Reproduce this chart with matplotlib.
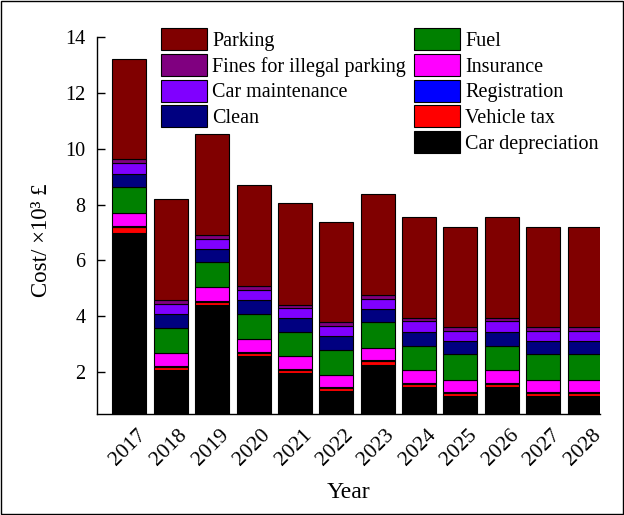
import matplotlib
matplotlib.use("Agg")
import matplotlib.pyplot as plt
from matplotlib.patches import Rectangle
from matplotlib.transforms import ScaledTranslation
import numpy as np

years = ["2017", "2018", "2019", "2020", "2021", "2022", "2023", "2024", "2025", "2026", "2027", "2028"]
car_depreciation = [7.00, 2.08, 4.42, 2.60, 1.98, 1.34, 2.28, 1.47, 1.14, 1.47, 1.14, 1.14]
vehicle_tax = [0.20, 0.12, 0.10, 0.09, 0.10, 0.09, 0.11, 0.11, 0.12, 0.11, 0.12, 0.12]
registration = [0.05, 0.04, 0.04, 0.04, 0.04, 0.04, 0.04, 0.04, 0.04, 0.04, 0.04, 0.04]
insurance = [0.46, 0.45, 0.48, 0.47, 0.45, 0.44, 0.45, 0.45, 0.44, 0.45, 0.44, 0.44]
fuel = [0.90, 0.90, 0.89, 0.90, 0.89, 0.90, 0.91, 0.89, 0.91, 0.89, 0.91, 0.91]
clean = [0.49, 0.51, 0.49, 0.50, 0.48, 0.49, 0.47, 0.50, 0.48, 0.50, 0.48, 0.48]
car_maintenance = [0.38, 0.34, 0.34, 0.35, 0.36, 0.34, 0.36, 0.36, 0.36, 0.36, 0.36, 0.36]
fines = [0.14, 0.13, 0.16, 0.12, 0.12, 0.15, 0.13, 0.14, 0.13, 0.14, 0.13, 0.13]
parking = [3.57, 3.62, 3.59, 3.63, 3.63, 3.60, 3.63, 3.60, 3.59, 3.60, 3.59, 3.59]

series = [
    ("Car depreciation", car_depreciation, "#000000"),
    ("Vehicle tax", vehicle_tax, "#FF0000"),
    ("Registration", registration, "#0000FF"),
    ("Insurance", insurance, "#FF00FF"),
    ("Fuel", fuel, "#008000"),
    ("Clean", clean, "#000080"),
    ("Car maintenance", car_maintenance, "#8000FF"),
    ("Fines for illegal parking", fines, "#800080"),
    ("Parking", parking, "#800000"),
]

plt.rcParams["font.family"] = ["Liberation Serif", "DejaVu Serif"]
fig = plt.figure(figsize=(6.24, 5.15), dpi=100)
ax = fig.add_axes([0.155, 0.1955, 0.962 - 0.155, 0.9287 - 0.1955])

x = np.arange(len(years))
bottom = np.zeros(len(years))
handles = {}
for name, vals, col in series:
    v = np.array(vals)
    b = ax.bar(x, v, width=0.82, bottom=bottom, color=col, edgecolor="black",
               linewidth=0.8, label=name)
    handles[name] = b
    bottom += v

ax.set_ylim(0.5, 14)
ax.set_xlim(-0.79, 11.38)
ax.set_yticks([2, 4, 6, 8, 10, 12, 14])
ax.set_xticks(x)
ax.set_xticklabels(years, rotation=45, ha="right", va="center", rotation_mode="anchor")
ax.tick_params(axis="x", length=0, pad=13, labelsize=15.5)
ax.tick_params(axis="y", direction="in", length=6, width=1, labelsize=14.5, pad=8)
shift = ScaledTranslation(14 / 100, 0, fig.dpi_scale_trans)
for lab in ax.get_xticklabels():
    lab.set_transform(lab.get_transform() + shift)
for s in ["top", "right"]:
    ax.spines[s].set_visible(False)
for s in ["left", "bottom"]:
    ax.spines[s].set_linewidth(1.0)

ax.set_xlabel("Year", fontsize=17, labelpad=9)
ax.set_ylabel("Cost/ ×10³ £", fontsize=16.5)
ax.yaxis.set_label_coords(-0.089, 0.46)

blank = Rectangle((0, 0), 0, 0, fill=False, edgecolor="none", visible=False)
order = ["Parking", "Fines for illegal parking", "Car maintenance", "Clean", None,
         "Fuel", "Insurance", "Registration", "Vehicle tax", "Car depreciation"]
hl = [handles[n] if n else blank for n in order]
ll = [n if n else "" for n in order]
leg = ax.legend(hl, ll, ncol=2, loc="upper left", frameon=False,
                bbox_to_anchor=(161 / 624, 1 - 28 / 515), bbox_transform=fig.transFigure,
                fontsize=14.5, handlelength=2.27, handleheight=1.31, handletextpad=0.27,
                labelspacing=0.15, columnspacing=0.41, borderpad=0, borderaxespad=0)

fig.patches.append(Rectangle((0.002, 0.002), 0.996, 0.996, transform=fig.transFigure,
                             fill=False, edgecolor="black", linewidth=1.0))

fig.savefig("out.png", dpi=100)
